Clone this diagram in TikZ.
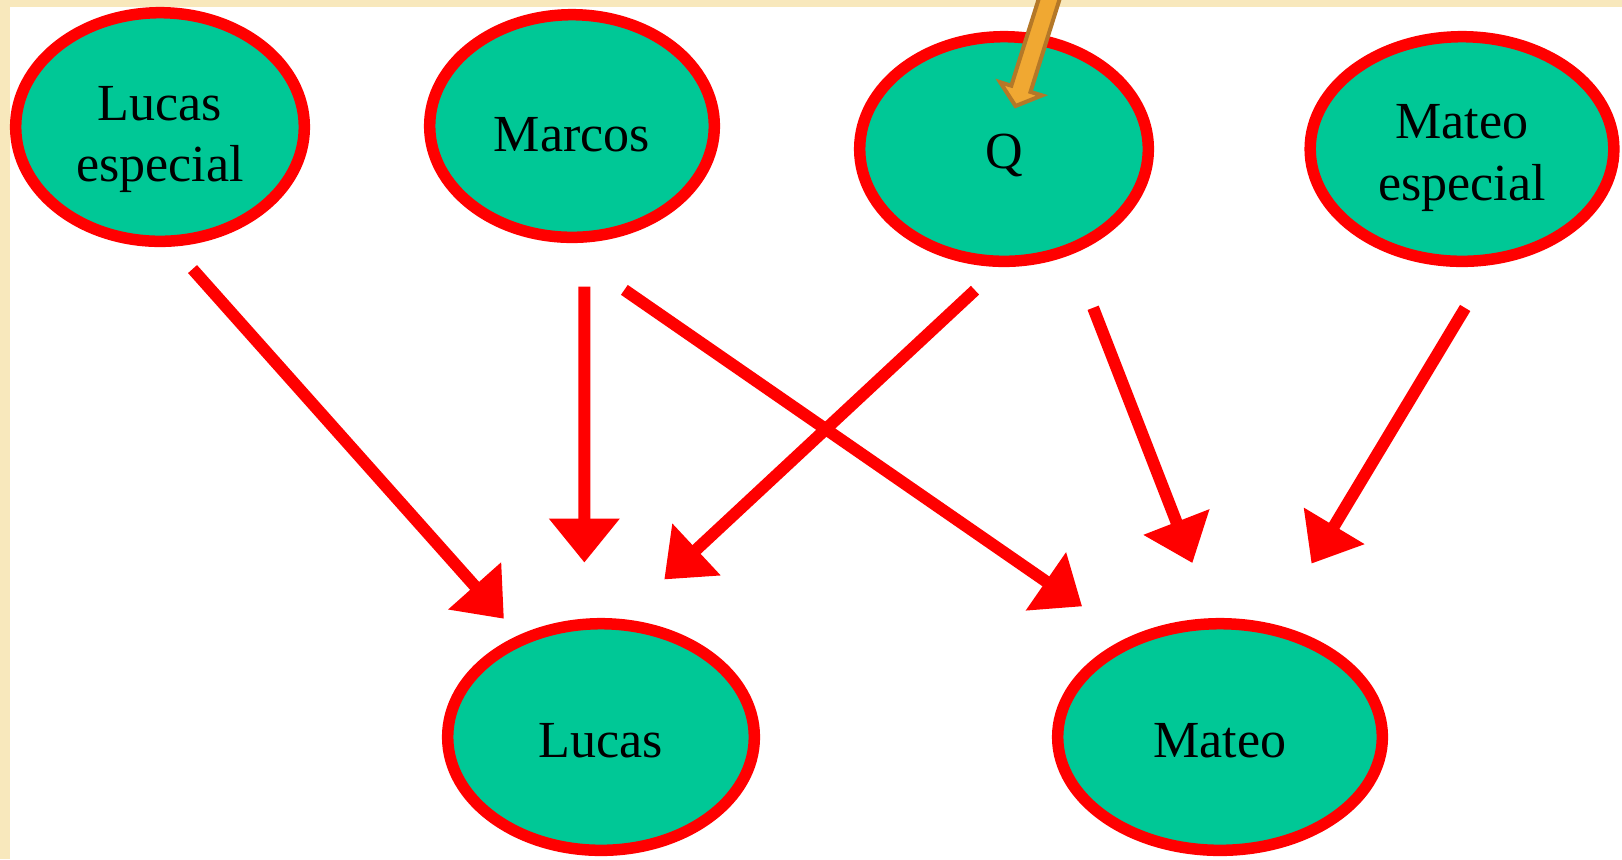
\documentclass[tikz,border=0pt]{standalone}
\usepackage{fontspec}
\setmainfont{Liberation Serif}
\usepackage{tikz}
\usetikzlibrary{shapes,arrows.meta}

\definecolor{nodegreen}{RGB}{0,200,150}
\definecolor{pagebeige}{RGB}{248,232,188}
\definecolor{pointerfill}{RGB}{240,168,50}
\definecolor{pointerline}{RGB}{180,120,40}
\newcommand{\padtop}[1]{\rule{0pt}{#1}}

\begin{document}
\begin{tikzpicture}[x=0.01cm, y=-0.01cm,
    person/.style={draw=red, fill=nodegreen, ellipse, line width=0.115cm, inner sep=0pt,
      align=center, font=\fontsize{14.8pt}{17.6pt}\selectfont},
    link/.style={draw=red, line width=0.12cm, -{Triangle[length=0.44cm, width=0.68cm]}}]
    \useasboundingbox (0,0) rectangle (1622,859);
    % Page
    \fill [pagebeige] (0,0) rectangle (1622,859);
    \fill [white] (10,7) rectangle (1622,859);
    % Nodes
    \node [person, minimum width=2.885cm, minimum height=2.285cm] (lesp) at (160,127) {\padtop{16.8pt}Lucas\\especial};
    \node [person, minimum width=2.845cm, minimum height=2.225cm] (marcos) at (572,126) {\padtop{14.4pt}Marcos};
    \node [person, minimum width=2.885cm, minimum height=2.245cm] (q) at (1004,149) {\padtop{13.5pt}Q};
    \node [person, minimum width=3.035cm, minimum height=2.245cm] (mesp) at (1462,149) {\padtop{15pt}Mateo\\especial};

    \node [person, minimum width=3.065cm, minimum height=2.265cm] (lucas) at (601,737) {\padtop{11.8pt}Lucas};
    \node [person, minimum width=3.245cm, minimum height=2.265cm] (mateo) at (1220,737) {\padtop{11.8pt}Mateo};
    % Arrows
    \draw [link, shorten <=0.30cm, shorten >=0.22cm] (lesp.-84.8) -- (lucas.129);
    \draw [link, shorten <=0.44cm, shorten >=0.56cm] (marcos.-84.1) -- (lucas.98.2);
    \draw [link, shorten <=0.34cm, shorten >=0.58cm] (q.-92.4) -- (lucas.80.7);
    \draw [link, shorten <=0.835cm, shorten >=0.55cm] (marcos.-98.1) -- (mateo.133.9);
    \draw [link, shorten <=0.575cm, shorten >=0.59cm] (q.-57.1) -- (mateo.93.2);
    \draw [link, shorten <=0.50cm, shorten >=0.71cm] (mesp.-76.5) -- (mateo.64.8);
    % Pointer
    \begin{scope}
      \clip (0,0) rectangle (1622,859);
      \filldraw [fill=pointerfill, draw=pointerline, line width=0.04cm, line join=miter]
        (1067,-24.5) -- (1030.5,91.9) -- (1042,95.4) -- (1015.5,106) -- (1000.1,82.2)
        -- (1011.3,85.7) -- (1048,-30.5) -- cycle;
    \end{scope}
\end{tikzpicture}
\end{document}
